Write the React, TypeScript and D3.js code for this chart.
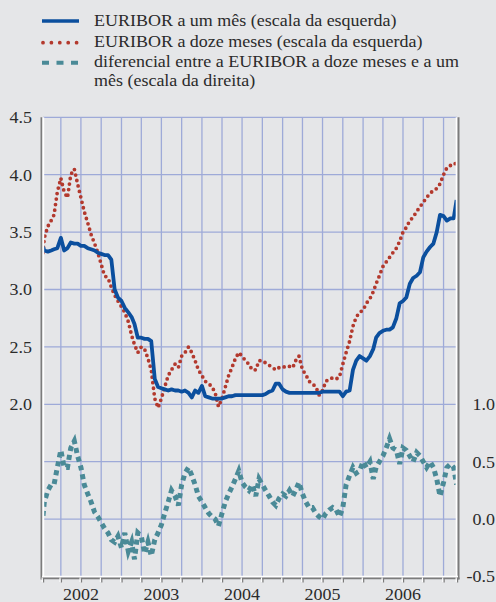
import React, { useEffect, useRef } from "react";
import * as d3 from "d3";

// semi-monthly observations (1st and 16th of month), first one on 10 Jan 2002
const dates = d3
  .range(125)
  .map(i => (i === 0 ? new Date(2002, 0, 10) : new Date(2002, Math.floor(i / 2), i % 2 ? 16 : 1)));

// EURIBOR a um mês (left scale)
const euribor1m = [
  3.37, 3.34, 3.33, 3.34, 3.35, 3.36, 3.45, 3.34, 3.36, 3.41, 3.40, 3.40, 3.38, 3.38, 3.36, 3.35, 3.34, 3.32, 3.31, 3.30, 3.30, 3.26, 3.00, 2.93,
  2.90, 2.84, 2.80, 2.76, 2.70, 2.58, 2.58, 2.57, 2.57, 2.55, 2.22, 2.15, 2.14, 2.13, 2.12, 2.13, 2.12, 2.12, 2.11, 2.12, 2.10, 2.06, 2.12, 2.10,
  2.16, 2.07, 2.06, 2.05, 2.05, 2.05, 2.05, 2.06, 2.07, 2.07, 2.08, 2.08, 2.08, 2.08, 2.08, 2.08, 2.08, 2.08, 2.08, 2.09, 2.11, 2.12, 2.18, 2.18,
  2.13, 2.11, 2.10, 2.10, 2.10, 2.10, 2.10, 2.10, 2.10, 2.10, 2.10, 2.10, 2.11, 2.11, 2.11, 2.11, 2.11, 2.11, 2.07, 2.11, 2.12, 2.30, 2.38, 2.42,
  2.40, 2.38, 2.42, 2.48, 2.58, 2.62, 2.64, 2.65, 2.65, 2.67, 2.75, 2.88, 2.90, 2.93, 3.05, 3.10, 3.12, 3.15, 3.28, 3.33, 3.37, 3.40, 3.50, 3.65,
  3.64, 3.60, 3.62, 3.62, 3.78
];

// EURIBOR a doze meses (left scale)
const euribor12m = [
  3.32, 3.45, 3.55, 3.60, 3.65, 3.85, 3.97, 3.85, 3.80, 4.00, 4.05, 3.92, 3.80, 3.68, 3.58, 3.48, 3.40, 3.32, 3.22, 3.12, 3.10, 3.02, 2.95, 2.90,
  2.85, 2.80, 2.72, 2.60, 2.52, 2.45, 2.50, 2.48, 2.40, 2.30, 2.05, 1.97, 2.05, 2.15, 2.25, 2.30, 2.35, 2.32, 2.42, 2.45, 2.50, 2.45, 2.38, 2.30,
  2.25, 2.20, 2.18, 2.15, 2.10, 1.98, 2.05, 2.15, 2.25, 2.32, 2.40, 2.45, 2.42, 2.38, 2.35, 2.30, 2.30, 2.38, 2.38, 2.36, 2.34, 2.32, 2.30, 2.32,
  2.33, 2.32, 2.33, 2.32, 2.38, 2.42, 2.30, 2.26, 2.20, 2.18, 2.15, 2.08, 2.12, 2.20, 2.22, 2.23, 2.22, 2.24, 2.35, 2.45, 2.55, 2.68, 2.76, 2.80,
  2.82, 2.88, 2.92, 2.98, 3.05, 3.12, 3.20, 3.24, 3.28, 3.32, 3.36, 3.42, 3.50, 3.54, 3.60, 3.63, 3.68, 3.72, 3.76, 3.80, 3.84, 3.86, 3.88, 3.92,
  4.00, 4.06, 4.08, 4.08, 4.11
];

// diferencial (right scale)
const spread = [
  0.03, 0.15, 0.25, 0.30, 0.30, 0.45, 0.60, 0.45, 0.45, 0.62, 0.68, 0.55, 0.45, 0.30, 0.22, 0.15, 0.06, 0.02, -0.03, -0.08, -0.12, -0.18, -0.20, -0.15,
  -0.25, -0.12, -0.28, -0.20, -0.35, -0.12, -0.15, -0.30, -0.20, -0.32, -0.18, -0.12, -0.05, 0.05, 0.15, 0.25, 0.20, 0.12, 0.30, 0.40, 0.45, 0.38, 0.30, 0.20,
  0.15, 0.10, 0.05, 0.02, 0.00, -0.06, 0.05, 0.15, 0.22, 0.28, 0.35, 0.42, 0.32, 0.28, 0.25, 0.30, 0.20, 0.35, 0.30, 0.25, 0.20, 0.15, 0.12, 0.18,
  0.22, 0.20, 0.25, 0.20, 0.25, 0.32, 0.22, 0.15, 0.10, 0.10, 0.05, 0.02, 0.00, 0.05, 0.08, 0.10, 0.08, 0.02, 0.10, 0.30, 0.38, 0.45, 0.40, 0.42,
  0.50, 0.45, 0.50, 0.35, 0.45, 0.50, 0.55, 0.62, 0.70, 0.62, 0.60, 0.48, 0.62, 0.60, 0.55, 0.50, 0.58, 0.55, 0.50, 0.45, 0.50, 0.45, 0.35, 0.20,
  0.32, 0.45, 0.48, 0.45, 0.30
];

const leftTicks = ["2.0", "2.5", "3.0", "3.5", "4.0", "4.5"];
const rightTicks = ["-0.5", "0.0", "0.5", "1.0"];
const years = [2002, 2003, 2004, 2005, 2006];

const legendLines = [
  "EURIBOR a um mês (escala da esquerda)",
  "EURIBOR a doze meses (escala da esquerda)",
  "diferencial entre a EURIBOR a doze meses e a um",
  "mês (escala da direita)"
];

const BG = "#e5e6e8";
const BLUE = "#0b4f9e";
const RED = "#b3392d";
const TEAL = "#4a8a97";
const GRID = "#9eaad8";
const FONT = "Liberation Serif, Times New Roman, DejaVu Serif, serif";

const App = () => {
  const ref = useRef(null);

  useEffect(() => {
    const svg = d3.select(ref.current);
    svg.selectAll("*").remove();

    const left = 43, right = 457, top = 117.3, bottom = 576.5;
    const x = d3.scaleTime().domain([new Date(2002, 0, 10), new Date(2007, 2, 3)]).range([left, right]);
    const yL = d3.scaleLinear().domain([0.5, 4.5]).range([bottom, top]);
    const yR = d3.scaleLinear().domain([-0.5, 3.5]).range([bottom, top]);

    svg.append("rect").attr("width", 496).attr("height", 602).attr("fill", BG);

    const stretchText = (g, txt, tx, ty, anchor, size) =>
      g.append("text")
        .attr("transform", `translate(${tx},${ty}) scale(1.09,1)`)
        .attr("text-anchor", anchor)
        .attr("font-family", FONT)
        .attr("font-size", size)
        .attr("fill", "#2b2b2b")
        .text(txt);

    // legend
    const lg = svg.append("g");
    lg.append("line").attr("x1", 42).attr("x2", 79).attr("y1", 21).attr("y2", 21)
      .attr("stroke", BLUE).attr("stroke-width", 3.5);
    lg.append("line").attr("x1", 43).attr("x2", 78).attr("y1", 42.7).attr("y2", 42.7)
      .attr("stroke", RED).attr("stroke-width", 3.8).attr("stroke-linecap", "round")
      .attr("stroke-dasharray", "0 8.4");
    lg.append("line").attr("x1", 42).attr("x2", 79).attr("y1", 62.7).attr("y2", 62.7)
      .attr("stroke", TEAL).attr("stroke-width", 4).attr("stroke-dasharray", "7 7.5");
    [25.7, 46.7, 66.7, 86].forEach((by, i) => stretchText(lg, legendLines[i], 94, by, "start", 16.5));

    // grid
    const grid = svg.append("g").attr("stroke", GRID).attr("stroke-width", 1.3);
    grid.selectAll("line.h").data(d3.range(1, 4.51, 0.5)).enter().append("line")
      .attr("x1", left).attr("x2", right)
      .attr("y1", d => yL(d)).attr("y2", d => yL(d));
    const quarters = d3.timeMonth.every(3).range(new Date(2002, 0, 11), new Date(2007, 2, 3));
    grid.selectAll("line.v").data(quarters).enter().append("line")
      .attr("x1", d => x(d)).attr("x2", d => x(d))
      .attr("y1", top).attr("y2", bottom);

    // series
    svg.append("clipPath").attr("id", "plotclip").append("rect")
      .attr("x", left).attr("y", top - 4).attr("width", right - left).attr("height", bottom - top + 4);
    const plot = svg.append("g").attr("clip-path", "url(#plotclip)");

    const lineL = d3.line().x((d, i) => x(dates[i])).y(d => yL(d));
    const lineR = d3.line().x((d, i) => x(dates[i])).y(d => yR(d));

    plot.append("path").attr("d", lineR(spread)).attr("fill", "none")
      .attr("stroke", TEAL).attr("stroke-width", 5).attr("stroke-dasharray", "5 4");
    plot.append("path").attr("d", lineL(euribor12m)).attr("fill", "none")
      .attr("stroke", RED).attr("stroke-width", 3.8).attr("stroke-linecap", "round")
      .attr("stroke-dasharray", "0 5.6");
    plot.append("path").attr("d", lineL(euribor1m)).attr("fill", "none")
      .attr("stroke", BLUE).attr("stroke-width", 3.8).attr("stroke-linejoin", "round");

    // frame
    const frame = svg.append("g");
    frame.append("line").attr("x1", 41.5).attr("x2", 41.5).attr("y1", top).attr("y2", 579.5)
      .attr("stroke", "#7c7c7c").attr("stroke-width", 2);
    frame.append("line").attr("x1", 43.3).attr("x2", 43.3).attr("y1", top).attr("y2", 577)
      .attr("stroke", "#ffffff").attr("stroke-width", 1.8);
    frame.append("line").attr("x1", 456.6).attr("x2", 456.6).attr("y1", top).attr("y2", 577)
      .attr("stroke", "#ffffff").attr("stroke-width", 1.8);
    frame.append("line").attr("x1", 458.5).attr("x2", 458.5).attr("y1", top).attr("y2", 579.5)
      .attr("stroke", "#7c7c7c").attr("stroke-width", 2);
    frame.append("line").attr("x1", 42).attr("x2", 458).attr("y1", 576.6).attr("y2", 576.6)
      .attr("stroke", "#ffffff").attr("stroke-width", 1.6);
    frame.append("line").attr("x1", 41).attr("x2", 459.5).attr("y1", 578.4).attr("y2", 578.4)
      .attr("stroke", "#7c7c7c").attr("stroke-width", 1.8);

    const tickPos = [left, ...quarters.map(d => x(d)), right];
    frame.selectAll("line.tw").data(tickPos).enter().append("line")
      .attr("x1", d => d - 0.8).attr("x2", d => d - 0.8).attr("y1", 577.5).attr("y2", 582)
      .attr("stroke", "#ffffff").attr("stroke-width", 1.2);
    frame.selectAll("line.tg").data(tickPos).enter().append("line")
      .attr("x1", d => d + 0.6).attr("x2", d => d + 0.6).attr("y1", 578).attr("y2", 582.5)
      .attr("stroke", "#7c7c7c").attr("stroke-width", 1.2);

    // labels
    const labels = svg.append("g");
    leftTicks.forEach(t => stretchText(labels, t, 32, yL(+t) + 5.8, "end", 16.5));
    rightTicks.forEach(t => stretchText(labels, t, 495, yR(+t) + 5.8, "end", 16.5));
    years.forEach(yr => stretchText(labels, String(yr), x(new Date(yr, 6, 1)), 599.5, "middle", 16.5));
  }, []);

  return (
    <div style={{ position: "fixed", left: 0, top: 0 }}>
      <svg ref={ref} width={496} height={602} />
    </div>
  );
};

export default App;
